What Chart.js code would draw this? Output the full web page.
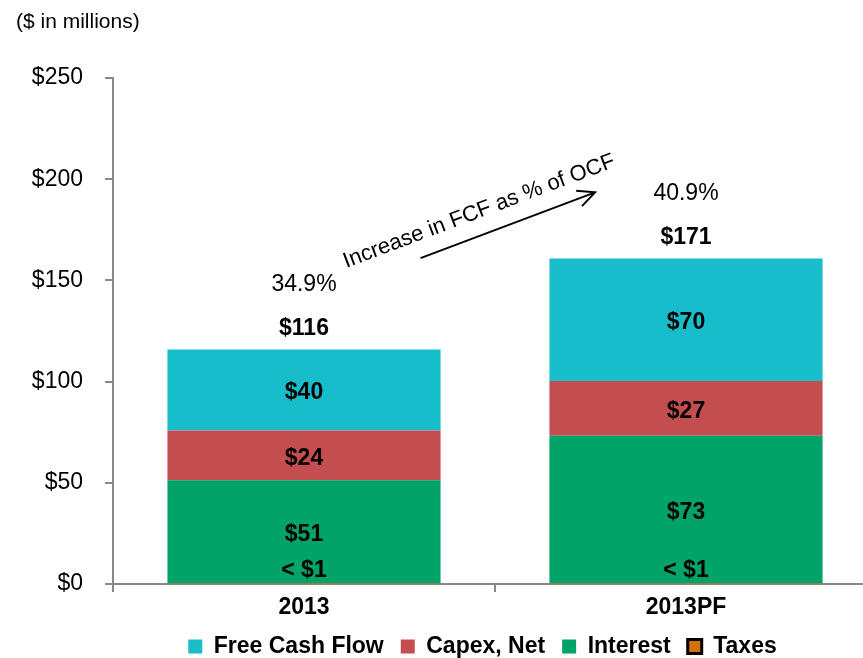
<!DOCTYPE html>
<html>
<head>
<meta charset="utf-8">
<script src="https://cdn.jsdelivr.net/npm/chart.js@4.4.0/dist/chart.umd.min.js"></script>
<style>
    html, body { margin: 0; padding: 0; background: #fff; overflow: hidden; }
    #wrap { position: relative; width: 900px; height: 658px; }
</style>
</head>
<body>
<div id="wrap"><canvas id="bar_chart" width="900" height="658"></canvas></div>
<script>
var categories = ["2013", "2013PF"];
var seriesNames = ["Taxes", "Interest", "Capex, Net", "Free Cash Flow"];
var taxes = [0.3, 0.3];
var interest = [51, 73];
var capex = [24.5, 27];
var freeCashFlow = [40, 60.5];
var segmentLabels = [["< $1", "< $1"], ["$51", "$73"], ["$24", "$27"], ["$40", "$70"]];
var totalLabels = ["$116", "$171"];
var fcfPctLabels = ["34.9%", "40.9%"];
var yTicks = [0, 50, 100, 150, 200, 250];

var FONT = "'Liberation Sans', Arial, sans-serif";

// labels inside the bars, totals, percentages, the arrow note
var annotate = {
    id: 'annotate',
    afterLayout: function (chart) {
        // legend sits a bit right of the canvas middle in the original
        chart.legend.left += 44;
        chart.legend.right += 44;
    },
    afterDatasetsDraw: function (chart) {
        var ctx = chart.ctx;
        var x = chart.scales.x, y = chart.scales.y;
        ctx.save();
        ctx.fillStyle = '#000';
        ctx.textAlign = 'center';
        ctx.textBaseline = 'middle';
        ctx.font = 'bold 23px ' + FONT;
        chart.data.datasets.forEach(function (ds, di) {
            chart.getDatasetMeta(di).data.forEach(function (bar, i) {
                var txt = segmentLabels[di][i];
                if (di === 0) {
                    ctx.fillText(txt, bar.x, bar.base - 12);
                } else {
                    ctx.fillText(txt, bar.x, (bar.y + bar.base) / 2 + 3);
                }
            });
        });
        var top = chart.getDatasetMeta(3).data;
        top.forEach(function (bar, i) {
            ctx.font = 'bold 23px ' + FONT;
            ctx.fillText(totalLabels[i], bar.x, bar.y - 21);
            ctx.font = '23px ' + FONT;
            ctx.fillText(fcfPctLabels[i], bar.x, bar.y - 65);
        });

        // arrow between the two bars
        var x0 = x.getPixelForValue(0), x1 = x.getPixelForValue(1);
        var cw = x1 - x0;
        var sx = x0 + 0.305 * cw, sy = y.getPixelForValue(161);
        var ex = x1 - 0.238 * cw, ey = y.getPixelForValue(193.5);
        var ang = Math.atan2(ey - sy, ex - sx);
        ctx.strokeStyle = '#000';
        ctx.lineWidth = 2;
        ctx.beginPath();
        ctx.moveTo(sx, sy);
        ctx.lineTo(ex, ey);
        ctx.moveTo(ex - 19 * Math.cos(ang - 0.45), ey - 19 * Math.sin(ang - 0.45));
        ctx.lineTo(ex, ey);
        ctx.lineTo(ex - 19 * Math.cos(ang + 0.45), ey - 19 * Math.sin(ang + 0.45));
        ctx.stroke();

        var ux = Math.cos(ang), uy = Math.sin(ang);
        var mx = (sx + ex) / 2 - 22 * ux + 23 * uy;
        var my = (sy + ey) / 2 - 22 * uy - 23 * ux;
        ctx.translate(mx, my);
        ctx.rotate(ang);
        ctx.font = '22px ' + FONT;
        ctx.fillText("Increase in FCF as % of OCF", 0, 0);
        ctx.restore();

        ctx.save();
        ctx.fillStyle = '#000';
        ctx.font = '21px ' + FONT;
        ctx.textAlign = 'left';
        ctx.textBaseline = 'middle';
        ctx.fillText("($ in millions)", 16, 22);
        ctx.restore();
    }
};

var config = {
    type: 'bar',
    data: {
        labels: categories,
        datasets: [{
            label: seriesNames[0],
            data: taxes,
            backgroundColor: '#D4700A'
        }, {
            label: seriesNames[1],
            data: interest,
            backgroundColor: '#00A368'
        }, {
            label: seriesNames[2],
            data: capex,
            backgroundColor: '#C44D4F'
        }, {
            label: seriesNames[3],
            data: freeCashFlow,
            backgroundColor: '#17BDCB'
        }]
    },
    options: {
        responsive: false,
        animation: false,
        barPercentage: 1,
        categoryPercentage: 0.715,
        borderWidth: 0,
        layout: {
            padding: { left: 0, right: 23, top: 78, bottom: -10 }
        },
        scales: {
            x: {
                stacked: true,
                afterFit: function (scale) { scale.height = 34; },
                grid: { drawOnChartArea: false, drawTicks: true, tickLength: 8, color: '#888', lineWidth: 2 },
                border: { color: '#888', width: 2 },
                ticks: { color: '#000', padding: 2, font: { family: FONT, size: 23, weight: 'bold' } }
            },
            y: {
                stacked: true,
                min: 0,
                max: 250,
                afterFit: function (scale) { scale.width = 113; },
                afterBuildTicks: function (scale) {
                    scale.ticks = yTicks.map(function (v) { return { value: v }; });
                },
                grid: { drawOnChartArea: false, drawTicks: true, tickLength: 8, color: '#888', lineWidth: 2 },
                border: { color: '#888', width: 2 },
                ticks: {
                    color: '#000',
                    padding: 22,
                    font: { family: FONT, size: 23 },
                    callback: function (v) { return '$' + v; }
                }
            }
        },
        plugins: {
            tooltip: { enabled: false },
            legend: {
                position: 'bottom',
                reverse: true,
                labels: {
                    color: '#000',
                    boxWidth: 14,
                    boxHeight: 14,
                    padding: 17,
                    font: { family: FONT, size: 23, weight: 'bold' },
                    generateLabels: function (chart) {
                        var items = Chart.defaults.plugins.legend.labels.generateLabels(chart);
                        items.forEach(function (it) {
                            if (it.text === 'Taxes') {
                                it.strokeStyle = '#000';
                                it.lineWidth = 3;
                            } else {
                                it.lineWidth = 0;
                            }
                        });
                        return items;
                    }
                }
            }
        }
    },
    plugins: [annotate]
};

new Chart(document.getElementById("bar_chart").getContext("2d"), config);
</script>
</body>
</html>
